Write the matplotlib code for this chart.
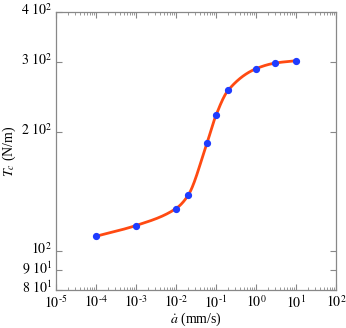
import numpy as np
import matplotlib
matplotlib.use("Agg")
import matplotlib.pyplot as plt
import matplotlib.transforms as mtransforms
from matplotlib.ticker import FixedLocator, NullLocator, LogLocator, NullFormatter

plt.rcParams['font.family'] = ['Liberation Serif', 'DejaVu Serif']
plt.rcParams['mathtext.fontset'] = 'stix'

rate = [1e-4, 1e-3, 1e-2, 2e-2, 6e-2, 1e-1, 2e-1, 1.0, 3.0, 10.0]
tension = [109.2, 116.2, 128.2, 138.3, 187.8, 220.0, 254.0, 288.0, 297.6, 301.7]

xticks = [1e-5, 1e-4, 1e-3, 1e-2, 1e-1, 1e0, 1e1, 1e2]
xlabels = [r'$10^{\text{-}5}$', r'$10^{\text{-}4}$', r'$10^{\text{-}3}$', r'$10^{\text{-}2}$',
           r'$10^{\text{-}1}$', r'$10^{0}$', r'$10^{1}$', r'$10^{2}$']
yticks = [80, 90, 100, 200, 300, 400]
ylabels = [r'$8\ 10^{1}$', r'$9\ 10^{1}$', r'$10^{2}$', r'$2\ 10^{2}$',
           r'$3\ 10^{2}$', r'$4\ 10^{2}$']


def pchip(xk, yk, xq):
    xk = np.asarray(xk, float); yk = np.asarray(yk, float)
    h = np.diff(xk); d = np.diff(yk) / h
    n = len(xk); m = np.zeros(n)
    for i in range(1, n - 1):
        if d[i - 1] * d[i] > 0:
            w1 = 2 * h[i] + h[i - 1]; w2 = h[i] + 2 * h[i - 1]
            m[i] = (w1 + w2) / (w1 / d[i - 1] + w2 / d[i])
    m[0] = d[0]; m[-1] = d[-1]
    idx = np.clip(np.searchsorted(xk, xq) - 1, 0, n - 2)
    t = (xq - xk[idx]) / h[idx]
    h00 = 2 * t**3 - 3 * t**2 + 1; h10 = t**3 - 2 * t**2 + t
    h01 = -2 * t**3 + 3 * t**2; h11 = t**3 - t**2
    return h00 * yk[idx] + h10 * h[idx] * m[idx] + h01 * yk[idx + 1] + h11 * h[idx] * m[idx + 1]


lx = np.log10(rate)
lq = np.linspace(lx[0], lx[-1], 400)
yq = 10 ** pchip(lx, np.log10(tension), lq)

fig = plt.figure(figsize=(3.46, 3.28), dpi=100)
ax = fig.add_axes([56 / 346, 38 / 328, 280 / 346, 278 / 328])
ax.set_xscale('log'); ax.set_yscale('log')
ax.plot(10 ** lq, yq, color='#ff4a12', lw=2.0, zorder=2)
ax.plot(rate, tension, 'o', color='#1f3cff', ms=4.2, zorder=3)

ax.set_xlim(1e-5, 1e2)
ax.set_ylim(80, 400)
ax.xaxis.set_major_locator(FixedLocator(xticks))
ax.set_xticklabels(xlabels)
ax.xaxis.set_minor_locator(LogLocator(base=10, subs=np.arange(2, 10), numticks=20))
ax.xaxis.set_minor_formatter(NullFormatter())
ax.yaxis.set_major_locator(FixedLocator(yticks))
ax.set_yticklabels(ylabels)
ax.yaxis.set_minor_locator(NullLocator())

for s in ax.spines.values():
    s.set_color('#888888'); s.set_linewidth(0.9)
ax.tick_params(which='both', direction='in', top=True, right=True, color='#888888',
               labelsize=10)
ax.tick_params(axis='x', pad=3)
ax.tick_params(axis='y', pad=3)
ax.tick_params(which='major', length=4, width=0.8)
ax.tick_params(which='minor', length=2, width=0.6)

shift = mtransforms.ScaledTranslation(0, 2.5 / 72, fig.dpi_scale_trans)
for lab in ax.get_yticklabels():
    lab.set_transform(lab.get_transform() + shift)

ax.set_xlabel(r'$\dot{a}$ (mm/s)', fontsize=10, labelpad=0)
ax.set_ylabel(r'$T_c$ (N/m)', fontsize=10, labelpad=2)

fig.savefig('out.png', dpi=100)
